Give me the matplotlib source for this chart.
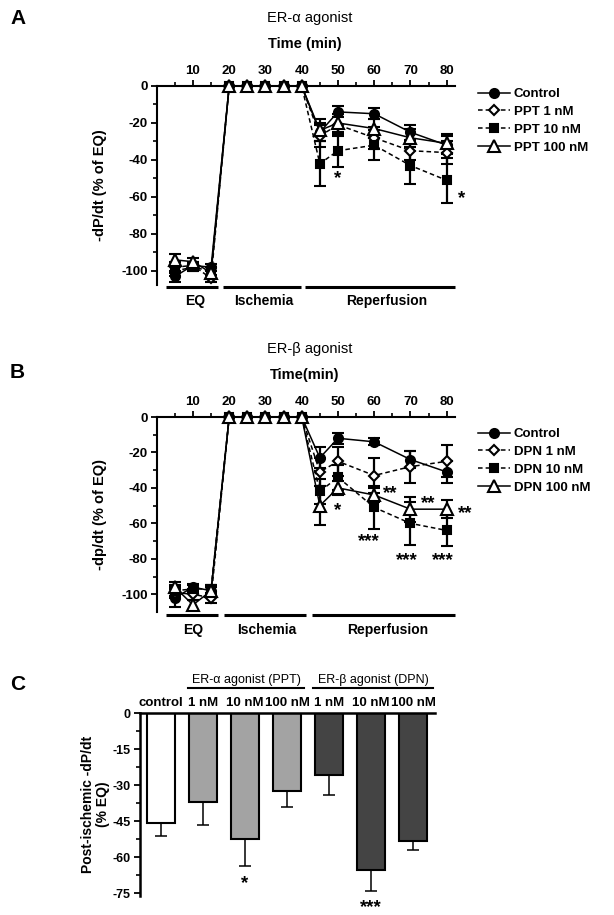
import matplotlib
matplotlib.use('Agg')
import matplotlib.pyplot as plt
from matplotlib.lines import Line2D
import matplotlib.transforms as mtransforms

plt.rcParams['font.family'] = ['Liberation Sans', 'DejaVu Sans']
plt.rcParams['axes.unicode_minus'] = False

# ---------------- data ----------------
time_min = [5, 10, 15, 20, 25, 30, 35, 40, 45, 50, 60, 70, 80]
x_ticks = [10, 20, 30, 40, 50, 60, 70, 80]

# Panel A (ER-alpha agonist PPT)
a_labels = ['Control', 'PPT 1 nM', 'PPT 10 nM', 'PPT 100 nM']
a_control = [-103, -97, -98, 0, 0, 0, 0, 0, -25, -14, -15, -25, -32]
a_control_err = [3, 2, 2, 0, 0, 0, 0, 0, 5, 3, 3, 4, 5]
a_ppt1 = [-98, -97, -104, 0, 0, 0, 0, 0, -27, -21, -28, -35, -36]
a_ppt1_err = [3, 2, 2, 0, 0, 0, 0, 0, 6, 6, 6, 5, 6]
a_ppt10 = [-100, -98, -100, 0, 0, 0, 0, 0, -42, -35, -32, -43, -51]
a_ppt10_err = [3, 2, 2, 0, 0, 0, 0, 0, 12, 9, 8, 10, 12]
a_ppt100 = [-94, -95, -101, 0, 0, 0, 0, 0, -24, -20, -23, -28, -31]
a_ppt100_err = [3, 2, 3, 0, 0, 0, 0, 0, 6, 5, 5, 5, 5]
a_stars = ['*', '*']
a_star_x = [50, 84]
a_star_y = [-50, -61]

# Panel B (ER-beta agonist DPN)
b_labels = ['Control', 'DPN 1 nM', 'DPN 10 nM', 'DPN 100 nM']
b_control = [-102, -96, -98, 0, 0, 0, 0, 0, -23, -12, -14, -24, -31]
b_control_err = [5, 2, 2, 0, 0, 0, 0, 0, 6, 3, 2, 5, 6]
b_dpn1 = [-99, -100, -102, 0, 0, 0, 0, 0, -31, -25, -33, -28, -25]
b_dpn1_err = [3, 3, 3, 0, 0, 0, 0, 0, 8, 8, 10, 9, 9]
b_dpn10 = [-98, -97, -97, 0, 0, 0, 0, 0, -42, -34, -51, -60, -64]
b_dpn10_err = [3, 2, 2, 0, 0, 0, 0, 0, 7, 7, 12, 12, 9]
b_dpn100 = [-96, -106, -98, 0, 0, 0, 0, 0, -50, -40, -44, -52, -52]
b_dpn100_err = [3, 3, 3, 0, 0, 0, 0, 0, 11, 4, 4, 7, 5]
b_stars = ['*', '**', '**', '**', '***', '***', '***']
b_star_x = [50, 64.5, 74.8, 85, 58.5, 69, 79]
b_star_y = [-53, -43, -49, -54.5, -70, -81, -81]

phase_names = ['EQ', 'Ischemia', 'Reperfusion']

# Panel C
c_groups = ['control', '1 nM', '10 nM', '100 nM', '1 nM', '10 nM', '100 nM']
c_values = [-45.7, -37, -52.3, -32.3, -26, -65.5, -53.2]
c_errors = [5.6, 9.5, 11.5, 6.8, 8.3, 8.8, 4.0]
c_colors = ['#ffffff', '#a3a3a3', '#a3a3a3', '#a3a3a3', '#444444', '#444444', '#444444']
c_stars = ['', '', '*', '', '', '***', '']
c_star_y = [0, 0, -71, 0, 0, -81, 0]

W, H = 614, 915
fig = plt.figure(figsize=(W / 100, H / 100), dpi=100)


def fx(px):
    return px / W


def fy(py):
    return 1 - py / H


styles = [
    dict(marker='o', ls='-', mfc='black', ms=6.5),
    dict(marker='D', ls=(0, (3, 2)), mfc='white', ms=5.5),
    dict(marker='s', ls=(0, (3, 2)), mfc='black', ms=6),
    dict(marker='^', ls='-', mfc='white', ms=8),
]


def time_panel(ax_rect, ylim, series, errs, labels, ylabel, title, xlabel,
               letter, title_y, xlab_y, letter_y, leg_top, stars, sx, sy,
               phase_x, phase_lab_x, bar_y, lab_y):
    ax = fig.add_axes(ax_rect)
    for s, e, st in zip(series, errs, styles):
        ax.errorbar(time_min, s, yerr=e, color='black', ecolor='black',
                    marker=st['marker'], ls=st['ls'], mfc=st['mfc'], mec='black',
                    mew=1.5, ms=st['ms'], lw=1.1, elinewidth=1.6, capsize=4.5,
                    capthick=1.6, clip_on=False, zorder=3)
    ax.set_xlim(0, 82.2)
    ax.set_ylim(*ylim)
    ax.spines['right'].set_visible(False)
    ax.spines['bottom'].set_visible(False)
    for sp in ['left', 'top']:
        ax.spines[sp].set_linewidth(1.5)
    ax.xaxis.tick_top()
    ax.set_xticks(x_ticks)
    ax.set_xticks([5, 15, 25, 35, 45, 55, 65, 75], minor=True)
    ax.set_yticks([0, -20, -40, -60, -80, -100])
    ax.set_yticks([-10, -30, -50, -70, -90], minor=True)
    ax.tick_params(axis='both', which='major', length=4.5, width=1.3,
                   labelsize=9.5, pad=2)
    ax.tick_params(axis='both', which='minor', length=3, width=1.2)
    for t in ax.get_xticklabels() + ax.get_yticklabels():
        t.set_fontweight('bold')
    # stars
    for s, x, y in zip(stars, sx, sy):
        ax.text(x, y, s, ha='center', va='center', fontsize=13.5,
                fontweight='bold', clip_on=False)
    # phase bars
    trans = mtransforms.blended_transform_factory(ax.transData, ax.transAxes)
    for (x0, x1), lx, name in zip(phase_x, phase_lab_x, phase_names):
        ax.plot([x0, x1], [bar_y, bar_y], color='black', lw=2.2,
                transform=trans, clip_on=False, solid_capstyle='butt')
        ax.text(lx, lab_y, name, transform=trans, ha='center', va='center',
                fontsize=10, fontweight='bold')
    # labels
    cy = ax_rect[1] + ax_rect[3] / 2
    fig.text(fx(100), cy, ylabel, rotation=90, ha='center', va='center',
             fontsize=10.5, fontweight='bold')
    fig.text(fx(310), fy(title_y), title, ha='center', va='center', fontsize=10.5)
    fig.text(fx(305), fy(xlab_y), xlabel, ha='center', va='center',
             fontsize=10.5, fontweight='bold')
    fig.text(fx(10), fy(letter_y), letter, ha='left', va='center', fontsize=15,
             fontweight='bold')
    # legend
    handles = [Line2D([], [], color='black', marker=st['marker'], ls=st['ls'],
                      mfc=st['mfc'], mec='black', mew=1.5, ms=st['ms'], lw=1.1)
               for st in styles]
    ax.legend(handles, labels, loc='upper left',
              bbox_to_anchor=(fx(478), fy(leg_top)),
              bbox_transform=fig.transFigure, frameon=False,
              handlelength=2.4, handletextpad=0.3, borderpad=0,
              borderaxespad=0, labelspacing=0.42,
              prop={'weight': 'bold', 'size': 9.5})
    return ax


# Panel A
time_panel([fx(156.7), fy(285), fx(298), 199 / H], (-107.6, 0),
           [a_control, a_ppt1, a_ppt10, a_ppt100],
           [a_control_err, a_ppt1_err, a_ppt10_err, a_ppt100_err],
           a_labels, '-dP/dt (% of EQ)', 'ER-\u03b1 agonist', 'Time (min)', 'A',
           18, 44, 18, 88, a_stars, a_star_x, a_star_y,
           [(2.5, 16.8), (18.3, 39.7), (40.8, 82.2)], [10.7, 29.5, 63.4],
           -0.008, -0.08)

# Panel B
time_panel([fx(156.7), fy(612), fx(298), 195 / H], (-110, 0),
           [b_control, b_dpn1, b_dpn10, b_dpn100],
           [b_control_err, b_dpn1_err, b_dpn10_err, b_dpn100_err],
           b_labels, '-dp/dt (% of EQ)', 'ER-\u03b2 agonist', 'Time(min)', 'B',
           349, 375, 372, 428, b_stars, b_star_x, b_star_y,
           [(2.7, 16.8), (18.6, 41.3), (42.9, 82.2)], [10.1, 30.3, 63.7],
           -0.015, -0.092)

# Panel C
axc = fig.add_axes([fx(140), fy(896), fx(295), 183 / H])
xs = list(range(len(c_values)))
axc.bar(xs, c_values, width=0.67, color=c_colors, edgecolor='black',
        linewidth=1.5, zorder=2)
axc.errorbar(xs, c_values, yerr=[c_errors, [0] * len(c_errors)], fmt='none',
             ecolor='black', elinewidth=1.1, capsize=4, capthick=1.1, zorder=1)
for x, s, y in zip(xs, c_stars, c_star_y):
    if s:
        axc.text(x, y, s, ha='center', va='center', fontsize=13.5,
                 fontweight='bold', clip_on=False)
axc.set_xlim(-0.5, 6.52)
axc.set_ylim(-76.2, 0)
axc.spines['right'].set_visible(False)
axc.spines['bottom'].set_visible(False)
for sp in ['left', 'top']:
    axc.spines[sp].set_linewidth(1.8)
axc.xaxis.tick_top()
axc.set_xticks(xs)
axc.set_xticklabels(c_groups, fontweight='bold', fontsize=9.5)
axc.tick_params(axis='x', length=0, pad=3)
axc.set_yticks([0, -15, -30, -45, -60, -75])
axc.set_yticks([-7.5, -22.5, -37.5, -52.5, -67.5], minor=True)
axc.tick_params(axis='y', which='major', length=4.5, width=1.3, labelsize=9, pad=2)
axc.tick_params(axis='y', which='minor', length=3, width=1.2)
for t in axc.get_yticklabels():
    t.set_fontweight('bold')
transc = mtransforms.blended_transform_factory(axc.transData, axc.transAxes)
for (x0, x1), name in [((0.65, 3.4), 'ER-\u03b1 agonist (PPT)'),
                       ((3.62, 6.48), 'ER-\u03b2 agonist (DPN)')]:
    axc.plot([x0, x1], [1.137, 1.137], color='black', lw=1.5,
             transform=transc, clip_on=False)
    axc.text((x0 + x1) / 2, 1.178, name, transform=transc, ha='center',
             va='center', fontsize=9)
fig.text(fx(88), fy(804), 'Post-ischemic -dP/dt', rotation=90, ha='center',
         va='center', fontsize=10, fontweight='bold')
fig.text(fx(103), fy(804), '(% EQ)', rotation=90, ha='center', va='center',
         fontsize=10, fontweight='bold')
fig.text(fx(10), fy(684), 'C', ha='left', va='center', fontsize=15,
         fontweight='bold')

fig.savefig('out.png', dpi=100)
